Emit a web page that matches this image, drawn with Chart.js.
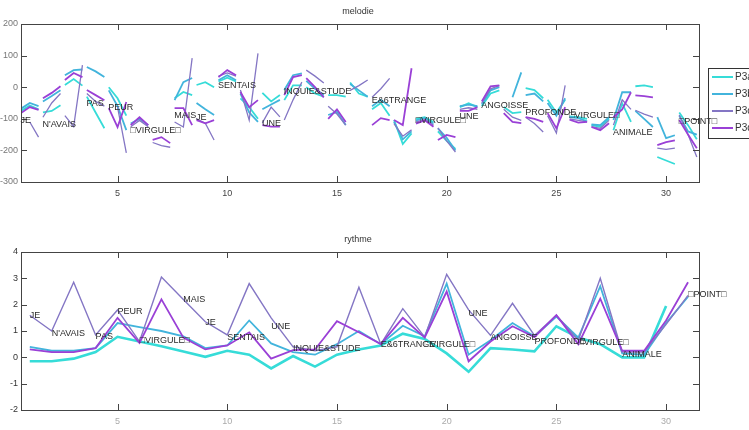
<!DOCTYPE html>
<html>
<head>
<meta charset="utf-8">
<script src="https://cdn.jsdelivr.net/npm/chart.js@4"></script>
<style>
  body { margin: 0; background: #fff; }
  #wrap { position: relative; width: 749px; height: 430px; background: #fff; }
  canvas { position: absolute; left: 0; }
  #melodie { top: 0; }
  #rythme { top: 200px; }
</style>
</head>
<body>
<div id="wrap">
  <canvas id="melodie" width="749" height="200"></canvas>
  <canvas id="rythme" width="749" height="230"></canvas>
</div>
<script>
// ── Data ──────────────────────────────────────────────────────
const SERIES = ['P3a', 'P3b', 'P3c', 'P3d'];
const COLORS = ['#36dcd8', '#42b4dc', '#8476c4', '#9a40d6'];
const X_TICKS = [5, 10, 15, 20, 25, 30];

// words of the sentence, one per position 1..31 (only labelled ones)
const WORD_POS  = [1, 2, 4, 5, 6, 8, 9, 10, 12, 13, 17, 19, 21, 22, 24, 26, 28, 31];
const WORD_TEXT = ['JE', "N'AVAIS", 'PAS', 'PEUR', '\u25A1VIRGULE\u25A1', 'MAIS', 'JE', 'SENTAIS',
  'UNE', 'INQUIE&STUDE', 'E&6TRANGE', '\u25A1VIRGULE\u25A1', 'UNE', 'ANGOISSE', 'PROFONDE',
  '\u25A1VIRGULE\u25A1', 'ANIMALE', '\u25A1POINT\u25A1'];
const MEL_LABEL_Y = [-105, -117, -51, -63, -136, -89, -95, 5, -115, -15, -41, -107, -92, -57, -81, -91, -143, -110];
const RYT_LABEL_Y = [1.6, 0.92, 0.8, 1.75, 0.62, 2.19, 1.34, 0.77, 1.18, 0.33, 0.49, 0.49, 1.66, 0.77, 0.61, 0.58, 0.1, 2.38];

// melodie: pitch contour per word, [start, middle, end]
const MEL_P3a = [[-75,-58,-70],[-80,-75,-57],[7,26,5],[-30,-80,-130],[0,-35,-90],[null,null,null],[null,null,null],
  [-35,-15,-25],[7,16,0],[18,30,18],[-35,-63,-100],[-18,-45,-25],[-41,6,6],[0,-20,-30],[-25,-25,-30],
  [15,-20,-30],[-70,-50,-90],[-104,-180,-146],[-100,-95,-110],[-140,-170,-195],[-63,-51,-63],[-60,-20,-10],
  [-63,-82,-79],[-3,-9,-35],[-40,-80,-40],[-92,-95,-100],[-120,-125,-100],[-136,-51,-110],[3,6,0],
  [-221,-232,-243],[-80,-120,-165]];
const MEL_P3b = [[-68,-50,-60],[-45,-28,-10],[38,54,56],[64,50,32],[-10,-60,-136],[-115,-100,-120],[null,null,null],
  [-41,16,29],[-50,-70,-88],[22,38,22],[-20,-80,-110],[-70,-55,-40],[-9,38,44],[20,-5,-25],[-88,-78,-120],
  [10,-10,-30],[-60,-40,-60],[-110,-165,-140],[-105,-98,-115],[-130,-160,-200],[-60,-55,-60],[-55,-10,0],
  [null,-32,47],[-25,-20,-45],[-50,-90,-35],[-95,-98,-108],[-118,-120,-95],[-104,-16,-16],[-75,-100,-126],
  [-95,-161,-152],[-90,-140,-150]];
const MEL_P3c = [[null,-110,-158],[-95,-50,-20],[-90,-125,70],[-20,-45,-60],[null,-63,-208],[-125,-105,-125],[-175,-185,-190],
  [-110,-126,92],[-100,-114,-167],[35,45,35],[-9,-104,107],[-113,-63,-94],[-104,-40,16],[54,35,13],[-60,-85,-120],
  [-10,5,23],[-32,-5,28],[-115,-155,-135],[-110,-103,-120],[-129,-170,-205],[-70,-65,-70],[-50,-5,5],
  [-70,-95,-105],[-95,-115,-142],[-90,-145,6],[-100,-105,-110],[-125,-130,-105],[-120,-40,-70],[-73,-85,-95],
  [-193,-197,-193],[-88,-150,-221]];
const MEL_P3d = [[-82,-63,-72],[-35,-18,3],[23,45,32],[-9,-25,-41],[-66,-126,-47],[-120,-95,-120],[-167,-158,-177],
  [-66,-66,-120],[-104,-114,-104],[32,54,38],[-15,-63,-41],[-120,-125,-125],[-25,32,38],[29,0,-32],[-100,-70,-110],
  [null,null,null],[-120,-98,-104],[-104,-120,60],[-115,-105,-125],[-167,-151,-158],[-75,-75,-63],[-45,3,6],
  [-82,-110,-114],[-95,-100,-110],[-82,-130,-63],[-103,-112,-110],[-126,-136,-114],[-95,-70,-16],[-26,-28,-32],
  [-183,-174,-168],[-104,-150,-193]];
const MEL_OFFSETS = [-0.4, 0, 0.4];

// rythme: one value per word position 1..31
const RYT_P3a = [-0.15,-0.15,-0.05,0.2,0.78,0.6,0.42,0.22,0.02,0.25,0.1,-0.42,0.05,-0.35,0.1,0.3,0.45,0.9,0.7,0.15,
  -0.55,0.35,0.3,0.23,1.18,0.75,0.5,0.0,0.0,1.95,null];
const RYT_P3b = [0.4,0.25,0.25,0.35,1.3,1.15,1.0,0.8,0.35,0.45,1.4,0.53,0.2,0.1,0.5,1.0,0.5,1.2,0.8,2.8,
  0.1,0.65,1.3,0.8,1.55,0.75,2.7,0.15,0.1,1.3,2.3];
const RYT_P3c = [1.6,1.0,2.85,0.85,1.8,0.6,3.05,2.2,1.35,0.85,2.8,1.5,0.4,0.25,0.4,2.66,0.5,1.85,0.77,3.15,
  1.8,0.83,2.05,0.83,1.6,0.65,3.0,0.2,0.2,1.25,2.35];
const RYT_P3d = [0.3,0.2,0.2,0.35,1.5,0.55,2.2,0.75,0.3,0.45,0.95,-0.05,0.27,0.3,1.37,0.95,0.5,1.5,0.75,2.5,
  -0.15,0.6,1.18,0.77,1.6,0.5,2.23,0.25,0.25,1.4,2.85];

// ── Helpers ───────────────────────────────────────────────────
function melPoints(list) {
  const pts = [];
  list.forEach((seg, i) => {
    seg.forEach((y, k) => pts.push({ x: i + 1 + MEL_OFFSETS[k], y: y }));
    pts.push({ x: i + 1.45, y: null });
  });
  return pts;
}

function rytPoints(list) {
  return list.map((y, i) => ({ x: i + 1, y: y }));
}

const FONT = 'Liberation Sans, Arial, sans-serif';

// box, inward ticks, title, word labels, legend
const framePlugin = {
  id: 'frame',
  afterDraw(chart, args, opts) {
    const ctx = chart.ctx;
    const a = chart.chartArea;
    const xs = chart.scales.x, ys = chart.scales.y;
    ctx.save();
    ctx.strokeStyle = '#444';
    ctx.lineWidth = 1;
    ctx.strokeRect(Math.round(a.left) + 0.5, Math.round(a.top) + 0.5, Math.round(a.right - a.left), Math.round(a.bottom - a.top));
    ctx.beginPath();
    X_TICKS.forEach(v => {
      const px = Math.round(xs.getPixelForValue(v)) + 0.5;
      ctx.moveTo(px, a.bottom); ctx.lineTo(px, a.bottom - 6);
      ctx.moveTo(px, a.top); ctx.lineTo(px, a.top + 6);
    });
    ys.ticks.forEach(t => {
      const py = Math.round(ys.getPixelForValue(t.value)) + 0.5;
      ctx.moveTo(a.left, py); ctx.lineTo(a.left + 6, py);
      ctx.moveTo(a.right, py); ctx.lineTo(a.right - 6, py);
    });
    ctx.stroke();

    // title
    ctx.fillStyle = '#333';
    ctx.font = '9px ' + FONT;
    ctx.textAlign = 'center';
    ctx.textBaseline = 'middle';
    ctx.fillText(opts.title, 358, opts.titleY);

    // word labels
    ctx.fillStyle = '#2a2a2a';
    ctx.font = '9px ' + FONT;
    ctx.textAlign = 'left';
    WORD_POS.forEach((p, i) => {
      ctx.fillText(WORD_TEXT[i], xs.getPixelForValue(p + opts.labelShift), ys.getPixelForValue(opts.labelY[i]));
    });

    // legend
    if (opts.legend) {
      ctx.strokeStyle = '#333';
      ctx.strokeRect(708.5, 68.5, 60, 70);
      ctx.font = '10px ' + FONT;
      ctx.fillStyle = '#333';
      SERIES.forEach((name, i) => {
        const y = 77 + i * 17;
        ctx.strokeStyle = COLORS[i];
        ctx.lineWidth = 2;
        ctx.beginPath(); ctx.moveTo(712, y); ctx.lineTo(733, y); ctx.stroke();
        ctx.fillText(name, 735, y);
      });
    }
    ctx.restore();
  }
};

function makeOptions(cfg) {
  return {
    responsive: false,
    animation: false,
    devicePixelRatio: 1,
    layout: { padding: { left: 0, right: 50, top: cfg.top, bottom: 0 } },
    elements: { point: { radius: 0 }, line: { tension: 0 } },
    scales: {
      x: {
        type: 'linear', min: 0.6, max: 31.5,
        afterBuildTicks: s => { s.ticks = X_TICKS.map(v => ({ value: v })); },
        afterFit: s => { s.height = cfg.xHeight; },
        grid: { display: false, drawTicks: false },
        border: { display: false },
        ticks: { padding: cfg.xPad, color: cfg.xColor, font: { family: FONT, size: 9 }, maxRotation: 0 }
      },
      y: {
        min: cfg.yMin, max: cfg.yMax,
        afterFit: s => { s.width = 21; },
        grid: { display: false, drawTicks: false },
        border: { display: false },
        ticks: { stepSize: cfg.yStep, padding: 3, color: cfg.yColor, font: { family: FONT, size: 9 } }
      }
    },
    plugins: {
      legend: { display: false },
      tooltip: { enabled: false },
      frame: cfg.frame
    }
  };
}

// ── Chart: melodie ────────────────────────────────────────────
const MEL_DATA = [MEL_P3a, MEL_P3b, MEL_P3c, MEL_P3d];
new Chart(document.getElementById('melodie'), {
  type: 'line',
  data: {
    datasets: SERIES.map((name, i) => ({
      label: name,
      data: melPoints(MEL_DATA[i]),
      borderColor: COLORS[i],
      borderWidth: i === 2 ? 1.3 : 1.8,
      spanGaps: false,
      order: 4 - i
    }))
  },
  options: makeOptions({
    top: 24, xHeight: 18, xPad: 6, xColor: '#444', yColor: '#777',
    yMin: -300, yMax: 200, yStep: 100,
    frame: { title: 'melodie', titleY: 12, labelShift: -0.42, labelY: MEL_LABEL_Y, legend: true }
  }),
  plugins: [framePlugin]
});

// ── Chart: rythme ─────────────────────────────────────────────
const RYT_DATA = [RYT_P3a, RYT_P3b, RYT_P3c, RYT_P3d];
new Chart(document.getElementById('rythme'), {
  type: 'line',
  data: {
    datasets: SERIES.map((name, i) => ({
      label: name,
      data: rytPoints(RYT_DATA[i]),
      borderColor: COLORS[i],
      borderWidth: i === 0 ? 2.6 : (i === 2 ? 1.4 : 1.8),
      spanGaps: false,
      order: 4 - i
    }))
  },
  options: makeOptions({
    top: 52, xHeight: 20, xPad: 6, xColor: '#aaa', yColor: '#333',
    yMin: -2, yMax: 4, yStep: 1,
    frame: { title: 'rythme', titleY: 40, labelShift: 0, labelY: RYT_LABEL_Y, legend: false }
  }),
  plugins: [framePlugin]
});
</script>
</body>
</html>
